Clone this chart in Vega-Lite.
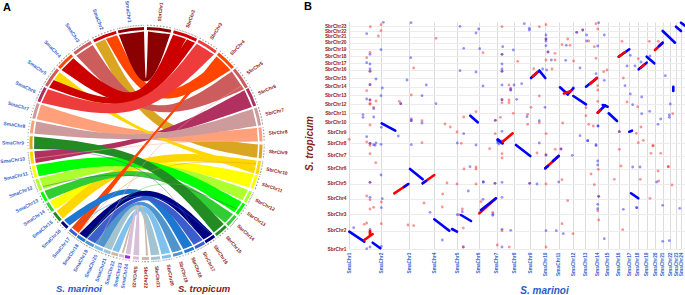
{"$schema":"https://vega.github.io/schema/vega-lite/v6.json","padding":0,"background":"white","bounds":"flush","spacing":48,"config":{"view":{"stroke":null},"font":"Liberation Sans"},
"datasets":{
"ring":[
{"chr":"SbrChr1","t0":0.5,"t1":12.5,"mid":6.5,"hom":"SbrChr1"},{"chr":"SbrChr2","t0":13.8,"t1":26,"mid":19.9,"hom":"SbrChr2"},{"chr":"SbrChr3","t0":27,"t1":37.4,"mid":32.2,"hom":"SbrChr3"},{"chr":"SbrChr4","t0":38.7,"t1":49,"mid":43.9,"hom":"SbrChr4"},{"chr":"SbrChr5","t0":50,"t1":61,"mid":55.5,"hom":"SbrChr5"},{"chr":"SbrChr6","t0":61.6,"t1":71,"mid":66.3,"hom":"SbrChr6"},{"chr":"SbrChr7","t0":72,"t1":81,"mid":76.5,"hom":"SbrChr7"},{"chr":"SbrChr8","t0":82,"t1":89,"mid":85.5,"hom":"SbrChr8"},{"chr":"SbrChr9","t0":90.5,"t1":97.4,"mid":94,"hom":"SbrChr9"},{"chr":"SbrChr10","t0":98.8,"t1":105.5,"mid":102.2,"hom":"SbrChr10"},{"chr":"SbrChr11","t0":106,"t1":113,"mid":109.5,"hom":"SbrChr11"},{"chr":"SbrChr12","t0":114.5,"t1":120.5,"mid":117.5,"hom":"SbrChr12"},{"chr":"SbrChr13","t0":121.5,"t1":127.8,"mid":124.7,"hom":"SbrChr13"},{"chr":"SbrChr14","t0":129,"t1":135,"mid":132,"hom":"SbrChr14"},{"chr":"SbrChr15","t0":136,"t1":142.6,"mid":139.3,"hom":"SbrChr15"},{"chr":"SbrChr16","t0":143.6,"t1":149,"mid":146.3,"hom":"SbrChr16"},{"chr":"SbrChr17","t0":149.5,"t1":154.8,"mid":152.2,"hom":"SbrChr17"},{"chr":"SbrChr18","t0":155.5,"t1":160.5,"mid":158,"hom":"SbrChr18"},{"chr":"SbrChr19","t0":161.5,"t1":166.4,"mid":164,"hom":"SbrChr19"},{"chr":"SbrChr20","t0":167.5,"t1":172,"mid":169.8,"hom":"SbrChr20"},{"chr":"SbrChr21","t0":173,"t1":177.5,"mid":175.3,"hom":"SbrChr21"},{"chr":"SbrChr22","t0":178.5,"t1":182,"mid":180.3,"hom":"SbrChr22"},{"chr":"SbrChr23","t0":183.5,"t1":186.5,"mid":185,"hom":"SbrChr23"},
{"chr":"SmaChr1","t0":346,"t1":359,"mid":352.5,"hom":"SbrChr1"},{"chr":"SmaChr2","t0":333,"t1":345,"mid":339,"hom":"SbrChr2"},{"chr":"SmaChr3","t0":321.5,"t1":331.5,"mid":326.5,"hom":"SbrChr5"},{"chr":"SmaChr4","t0":311,"t1":320,"mid":315.5,"hom":"SbrChr4"},{"chr":"SmaChr5","t0":300,"t1":310,"mid":305,"hom":"SbrChr5"},{"chr":"SmaChr6","t0":291.3,"t1":299,"mid":295.2,"hom":"SbrChr6"},{"chr":"SmaChr7","t0":282.5,"t1":290.4,"mid":286.5,"hom":"SbrChr7"},{"chr":"SmaChr8","t0":275,"t1":281.4,"mid":278.2,"hom":"SbrChr8"},{"chr":"SmaChr9","t0":267.2,"t1":273.6,"mid":270.4,"hom":"SbrChr9"},{"chr":"SmaChr10","t0":260,"t1":266,"mid":263,"hom":"SbrChr10"},{"chr":"SmaChr11","t0":253,"t1":259,"mid":256,"hom":"SbrChr11"},{"chr":"SmaChr12","t0":246,"t1":252,"mid":249,"hom":"SbrChr12"},{"chr":"SmaChr13","t0":240,"t1":245,"mid":242.5,"hom":"SbrChr13"},{"chr":"SmaChr14","t0":234,"t1":239,"mid":236.5,"hom":"SbrChr14"},{"chr":"SmaChr15","t0":228,"t1":233,"mid":230.5,"hom":"SbrChr15"},{"chr":"SmaChr16","t0":223,"t1":227,"mid":225,"hom":"SbrChr16"},{"chr":"SmaChr17","t0":217,"t1":221.5,"mid":219.3,"hom":"SbrChr17"},{"chr":"SmaChr18","t0":212,"t1":216.5,"mid":214.3,"hom":"SbrChr18"},{"chr":"SmaChr19","t0":207,"t1":211.6,"mid":209.3,"hom":"SbrChr19"},{"chr":"SmaChr20","t0":202,"t1":206.5,"mid":204.3,"hom":"SbrChr20"},{"chr":"SmaChr21","t0":198,"t1":201.5,"mid":199.8,"hom":"SbrChr21"},{"chr":"SmaChr22","t0":194,"t1":197.5,"mid":195.8,"hom":"SbrChr22"},{"chr":"SmaChr23","t0":191,"t1":193.5,"mid":192.3,"hom":"SbrChr23"},{"chr":"SmaChr24","t0":188,"t1":190.5,"mid":189.3,"hom":"Orchid"}],
"ribbons":[
{"link":"r06","hom":"SbrChr9","i":0,"x":-50.8,"y":99.8},{"link":"r06","hom":"SbrChr9","i":1,"x":3.4,"y":4.9},{"link":"r06","hom":"SbrChr9","i":2,"x":111.1,"y":-14.4},{"link":"r06","hom":"SbrChr9","i":3,"x":111.1,"y":-14.4},{"link":"r06","hom":"SbrChr9","i":4,"x":111.1,"y":-14.4},{"link":"r06","hom":"SbrChr9","i":5,"x":112,"y":-1},{"link":"r06","hom":"SbrChr9","i":6,"x":112,"y":-1},{"link":"r06","hom":"SbrChr9","i":7,"x":112,"y":-1},{"link":"r06","hom":"SbrChr9","i":8,"x":7.9,"y":11.5},{"link":"r06","hom":"SbrChr9","i":9,"x":-41,"y":104.2},
{"link":"r07","hom":"SbrChr5","i":0,"x":-69.7,"y":87.7},{"link":"r07","hom":"SbrChr5","i":1,"x":2.6,"y":13.2},{"link":"r07","hom":"SbrChr5","i":2,"x":98,"y":54.3},{"link":"r07","hom":"SbrChr5","i":3,"x":98,"y":54.3},{"link":"r07","hom":"SbrChr5","i":4,"x":98,"y":54.3},{"link":"r07","hom":"SbrChr5","i":5,"x":85.8,"y":72},{"link":"r07","hom":"SbrChr5","i":6,"x":85.8,"y":72},{"link":"r07","hom":"SbrChr5","i":7,"x":85.8,"y":72},{"link":"r07","hom":"SbrChr5","i":8,"x":3,"y":15.7},{"link":"r07","hom":"SbrChr5","i":9,"x":-53.4,"y":98.4},
{"link":"r05","hom":"SbrChr4","i":0,"x":-40.1,"y":104.6},{"link":"r05","hom":"SbrChr4","i":1,"x":6,"y":24.3},{"link":"r05","hom":"SbrChr4","i":2,"x":84.5,"y":73.5},{"link":"r05","hom":"SbrChr4","i":3,"x":84.5,"y":73.5},{"link":"r05","hom":"SbrChr4","i":4,"x":84.5,"y":73.5},{"link":"r05","hom":"SbrChr4","i":5,"x":74.2,"y":83.9},{"link":"r05","hom":"SbrChr4","i":6,"x":74.2,"y":83.9},{"link":"r05","hom":"SbrChr4","i":7,"x":74.2,"y":83.9},{"link":"r05","hom":"SbrChr4","i":8,"x":7.6,"y":32.1},{"link":"r05","hom":"SbrChr4","i":9,"x":-29,"y":108.2},
{"link":"r12","hom":"SbrChr6","i":0,"x":-110.3,"y":-19.4},{"link":"r12","hom":"SbrChr6","i":1,"x":0,"y":0},{"link":"r12","hom":"SbrChr6","i":2,"x":105.9,"y":36.5},{"link":"r12","hom":"SbrChr6","i":3,"x":105.9,"y":36.5},{"link":"r12","hom":"SbrChr6","i":4,"x":105.9,"y":36.5},{"link":"r12","hom":"SbrChr6","i":5,"x":98.5,"y":53.3},{"link":"r12","hom":"SbrChr6","i":6,"x":98.5,"y":53.3},{"link":"r12","hom":"SbrChr6","i":7,"x":98.5,"y":53.3},{"link":"r12","hom":"SbrChr6","i":8,"x":0,"y":0},{"link":"r12","hom":"SbrChr6","i":9,"x":-111.7,"y":-7.8},
{"link":"r10","hom":"SbrChr8","i":0,"x":-109.3,"y":24.2},{"link":"r10","hom":"SbrChr8","i":1,"x":0,"y":0},{"link":"r10","hom":"SbrChr8","i":2,"x":112,"y":2},{"link":"r10","hom":"SbrChr8","i":3,"x":112,"y":2},{"link":"r10","hom":"SbrChr8","i":4,"x":112,"y":2},{"link":"r10","hom":"SbrChr8","i":5,"x":110.9,"y":15.6},{"link":"r10","hom":"SbrChr8","i":6,"x":110.9,"y":15.6},{"link":"r10","hom":"SbrChr8","i":7,"x":110.9,"y":15.6},{"link":"r10","hom":"SbrChr8","i":8,"x":0,"y":5},{"link":"r10","hom":"SbrChr8","i":9,"x":-105,"y":39},
{"link":"r17","hom":"SbrChr11","i":0,"x":-90.6,"y":-65.8},{"link":"r17","hom":"SbrChr11","i":1,"x":-6,"y":-12},{"link":"r17","hom":"SbrChr11","i":2,"x":103.1,"y":-43.8},{"link":"r17","hom":"SbrChr11","i":3,"x":103.1,"y":-43.8},{"link":"r17","hom":"SbrChr11","i":4,"x":103.1,"y":-43.8},{"link":"r17","hom":"SbrChr11","i":5,"x":107.7,"y":-30.9},{"link":"r17","hom":"SbrChr11","i":6,"x":107.7,"y":-30.9},{"link":"r17","hom":"SbrChr11","i":7,"x":107.7,"y":-30.9},{"link":"r17","hom":"SbrChr11","i":8,"x":-4,"y":-8},{"link":"r17","hom":"SbrChr11","i":9,"x":-96,"y":-57.7},
{"link":"r09","hom":"SbrChr10","i":0,"x":-83.2,"y":-74.9},{"link":"r09","hom":"SbrChr10","i":1,"x":-9.6,"y":-10},{"link":"r09","hom":"SbrChr10","i":2,"x":109.5,"y":-23.3},{"link":"r09","hom":"SbrChr10","i":3,"x":109.5,"y":-23.3},{"link":"r09","hom":"SbrChr10","i":4,"x":109.5,"y":-23.3},{"link":"r09","hom":"SbrChr10","i":5,"x":110.7,"y":-17.1},{"link":"r09","hom":"SbrChr10","i":6,"x":110.7,"y":-17.1},{"link":"r09","hom":"SbrChr10","i":7,"x":110.7,"y":-17.1},{"link":"r09","hom":"SbrChr10","i":8,"x":-8,"y":-1.4},{"link":"r09","hom":"SbrChr10","i":9,"x":-89.4,"y":-67.4},
{"link":"r08","hom":"SbrChr10","i":0,"x":-91.7,"y":64.2},{"link":"r08","hom":"SbrChr10","i":1,"x":-5.5,"y":8},{"link":"r08","hom":"SbrChr10","i":2,"x":107.9,"y":-29.9},{"link":"r08","hom":"SbrChr10","i":3,"x":107.9,"y":-29.9},{"link":"r08","hom":"SbrChr10","i":4,"x":107.9,"y":-29.9},{"link":"r08","hom":"SbrChr10","i":5,"x":109.5,"y":-23.3},{"link":"r08","hom":"SbrChr10","i":6,"x":109.5,"y":-23.3},{"link":"r08","hom":"SbrChr10","i":7,"x":109.5,"y":-23.3},{"link":"r08","hom":"SbrChr10","i":8,"x":-7,"y":9},{"link":"r08","hom":"SbrChr10","i":9,"x":-86.4,"y":71.2},
{"link":"r11","hom":"SbrChr7","i":0,"x":-111.6,"y":9.8},{"link":"r11","hom":"SbrChr7","i":1,"x":0,"y":0},{"link":"r11","hom":"SbrChr7","i":2,"x":110.6,"y":17.5},{"link":"r11","hom":"SbrChr7","i":3,"x":110.6,"y":17.5},{"link":"r11","hom":"SbrChr7","i":4,"x":110.6,"y":17.5},{"link":"r11","hom":"SbrChr7","i":5,"x":106.5,"y":34.6},{"link":"r11","hom":"SbrChr7","i":6,"x":106.5,"y":34.6},{"link":"r11","hom":"SbrChr7","i":7,"x":106.5,"y":34.6},{"link":"r11","hom":"SbrChr7","i":8,"x":0,"y":0},{"link":"r11","hom":"SbrChr7","i":9,"x":-109.8,"y":22.1},
{"link":"r15","hom":"SbrChr12","i":0,"x":-102.3,"y":-45.6},{"link":"r15","hom":"SbrChr12","i":1,"x":0,"y":-12},{"link":"r15","hom":"SbrChr12","i":2,"x":96.5,"y":-56.8},{"link":"r15","hom":"SbrChr12","i":3,"x":96.5,"y":-56.8},{"link":"r15","hom":"SbrChr12","i":4,"x":96.5,"y":-56.8},{"link":"r15","hom":"SbrChr12","i":5,"x":101.9,"y":-46.4},{"link":"r15","hom":"SbrChr12","i":6,"x":101.9,"y":-46.4},{"link":"r15","hom":"SbrChr12","i":7,"x":101.9,"y":-46.4},{"link":"r15","hom":"SbrChr12","i":8,"x":0,"y":-10},{"link":"r15","hom":"SbrChr12","i":9,"x":-106.5,"y":-34.6},
{"link":"r16","hom":"SbrChr14","i":0,"x":-97,"y":-56},{"link":"r16","hom":"SbrChr14","i":1,"x":0,"y":-16},{"link":"r16","hom":"SbrChr14","i":2,"x":79.2,"y":-79.2},{"link":"r16","hom":"SbrChr14","i":3,"x":79.2,"y":-79.2},{"link":"r16","hom":"SbrChr14","i":4,"x":79.2,"y":-79.2},{"link":"r16","hom":"SbrChr14","i":5,"x":87,"y":-70.5},{"link":"r16","hom":"SbrChr14","i":6,"x":87,"y":-70.5},{"link":"r16","hom":"SbrChr14","i":7,"x":87,"y":-70.5},{"link":"r16","hom":"SbrChr14","i":8,"x":0,"y":-13},{"link":"r16","hom":"SbrChr14","i":9,"x":-101.5,"y":-47.3},
{"link":"r14","hom":"SbrChr13","i":0,"x":-107.1,"y":-32.7},{"link":"r14","hom":"SbrChr13","i":1,"x":0,"y":-12},{"link":"r14","hom":"SbrChr13","i":2,"x":88.5,"y":-68.6},{"link":"r14","hom":"SbrChr13","i":3,"x":88.5,"y":-68.6},{"link":"r14","hom":"SbrChr13","i":4,"x":88.5,"y":-68.6},{"link":"r14","hom":"SbrChr13","i":5,"x":95.5,"y":-58.5},{"link":"r14","hom":"SbrChr13","i":6,"x":95.5,"y":-58.5},{"link":"r14","hom":"SbrChr13","i":7,"x":95.5,"y":-58.5},{"link":"r14","hom":"SbrChr13","i":8,"x":0,"y":-5},{"link":"r14","hom":"SbrChr13","i":9,"x":-109.9,"y":-21.4},
{"link":"r13","hom":"SbrChr15","i":0,"x":-111.9,"y":-5.5},{"link":"r13","hom":"SbrChr15","i":1,"x":0,"y":-9},{"link":"r13","hom":"SbrChr15","i":2,"x":68,"y":-89},{"link":"r13","hom":"SbrChr15","i":3,"x":68,"y":-89},{"link":"r13","hom":"SbrChr15","i":4,"x":68,"y":-89},{"link":"r13","hom":"SbrChr15","i":5,"x":77.8,"y":-80.6},{"link":"r13","hom":"SbrChr15","i":6,"x":77.8,"y":-80.6},{"link":"r13","hom":"SbrChr15","i":7,"x":77.8,"y":-80.6},{"link":"r13","hom":"SbrChr15","i":8,"x":5.5,"y":-5.5},{"link":"r13","hom":"SbrChr15","i":9,"x":-111.8,"y":7},
{"link":"r19","hom":"SbrChr4","i":0,"x":-67.4,"y":-89.4},{"link":"r19","hom":"SbrChr4","i":1,"x":0,"y":0},{"link":"r19","hom":"SbrChr4","i":2,"x":74.2,"y":83.9},{"link":"r19","hom":"SbrChr4","i":3,"x":74.2,"y":83.9},{"link":"r19","hom":"SbrChr4","i":4,"x":74.2,"y":83.9},{"link":"r19","hom":"SbrChr4","i":5,"x":70.5,"y":87},{"link":"r19","hom":"SbrChr4","i":6,"x":70.5,"y":87},{"link":"r19","hom":"SbrChr4","i":7,"x":70.5,"y":87},{"link":"r19","hom":"SbrChr4","i":8,"x":0,"y":0},{"link":"r19","hom":"SbrChr4","i":9,"x":-74.2,"y":-83.9},
{"link":"r01","hom":"SbrChr1","i":0,"x":-27.1,"y":108.7},{"link":"r01","hom":"SbrChr1","i":1,"x":0,"y":38.5},{"link":"r01","hom":"SbrChr1","i":2,"x":24.2,"y":109.3},{"link":"r01","hom":"SbrChr1","i":3,"x":24.2,"y":109.3},{"link":"r01","hom":"SbrChr1","i":4,"x":24.2,"y":109.3},{"link":"r01","hom":"SbrChr1","i":5,"x":2,"y":112},{"link":"r01","hom":"SbrChr1","i":6,"x":2,"y":112},{"link":"r01","hom":"SbrChr1","i":7,"x":2,"y":112},{"link":"r01","hom":"SbrChr1","i":8,"x":0,"y":42},{"link":"r01","hom":"SbrChr1","i":9,"x":-2,"y":112},
{"link":"r02","hom":"SbrChr2","i":0,"x":-84.5,"y":73.5},{"link":"r02","hom":"SbrChr2","i":1,"x":-4.8,"y":19.4},{"link":"r02","hom":"SbrChr2","i":2,"x":40.1,"y":104.6},{"link":"r02","hom":"SbrChr2","i":3,"x":40.1,"y":104.6},{"link":"r02","hom":"SbrChr2","i":4,"x":40.1,"y":104.6},{"link":"r02","hom":"SbrChr2","i":5,"x":27.1,"y":108.7},{"link":"r02","hom":"SbrChr2","i":6,"x":27.1,"y":108.7},{"link":"r02","hom":"SbrChr2","i":7,"x":27.1,"y":108.7},{"link":"r02","hom":"SbrChr2","i":8,"x":-6.9,"y":29.2},{"link":"r02","hom":"SbrChr2","i":9,"x":-72.7,"y":85.2},
{"link":"r03","hom":"SbrChr2","i":0,"x":-97,"y":56},{"link":"r03","hom":"SbrChr2","i":1,"x":-7.3,"y":23.9},{"link":"r03","hom":"SbrChr2","i":2,"x":49.1,"y":100.7},{"link":"r03","hom":"SbrChr2","i":3,"x":49.1,"y":100.7},{"link":"r03","hom":"SbrChr2","i":4,"x":49.1,"y":100.7},{"link":"r03","hom":"SbrChr2","i":5,"x":41,"y":104.2},{"link":"r03","hom":"SbrChr2","i":6,"x":41,"y":104.2},{"link":"r03","hom":"SbrChr2","i":7,"x":41,"y":104.2},{"link":"r03","hom":"SbrChr2","i":8,"x":-9,"y":29.6},{"link":"r03","hom":"SbrChr2","i":9,"x":-92.3,"y":63.4},
{"link":"r04","hom":"SbrChr3","i":0,"x":-104.4,"y":40.7},{"link":"r04","hom":"SbrChr3","i":1,"x":-5.1,"y":18.3},{"link":"r04","hom":"SbrChr3","i":2,"x":68,"y":89},{"link":"r04","hom":"SbrChr3","i":3,"x":68,"y":89},{"link":"r04","hom":"SbrChr3","i":4,"x":68,"y":89},{"link":"r04","hom":"SbrChr3","i":5,"x":50.8,"y":99.8},{"link":"r04","hom":"SbrChr3","i":6,"x":50.8,"y":99.8},{"link":"r04","hom":"SbrChr3","i":7,"x":50.8,"y":99.8},{"link":"r04","hom":"SbrChr3","i":8,"x":-7.9,"y":25.8},{"link":"r04","hom":"SbrChr3","i":9,"x":-98,"y":54.3},
{"link":"r18","hom":"SbrChr18","i":0,"x":-81.9,"y":-76.4},{"link":"r18","hom":"SbrChr18","i":1,"x":-4.8,"y":-24.5},{"link":"r18","hom":"SbrChr18","i":2,"x":46.4,"y":-101.9},{"link":"r18","hom":"SbrChr18","i":3,"x":46.4,"y":-101.9},{"link":"r18","hom":"SbrChr18","i":4,"x":46.4,"y":-101.9},{"link":"r18","hom":"SbrChr18","i":5,"x":37.4,"y":-105.6},{"link":"r18","hom":"SbrChr18","i":6,"x":37.4,"y":-105.6},{"link":"r18","hom":"SbrChr18","i":7,"x":37.4,"y":-105.6},{"link":"r18","hom":"SbrChr18","i":8,"x":-6,"y":-29.4},{"link":"r18","hom":"SbrChr18","i":9,"x":-76.4,"y":-81.9},
{"link":"r20","hom":"SbrChr16","i":0,"x":-66.6,"y":-90},{"link":"r20","hom":"SbrChr16","i":1,"x":0,"y":-26},{"link":"r20","hom":"SbrChr16","i":2,"x":66.5,"y":-90.2},{"link":"r20","hom":"SbrChr16","i":3,"x":66.5,"y":-90.2},{"link":"r20","hom":"SbrChr16","i":4,"x":66.5,"y":-90.2},{"link":"r20","hom":"SbrChr16","i":5,"x":57.7,"y":-96},{"link":"r20","hom":"SbrChr16","i":6,"x":57.7,"y":-96},{"link":"r20","hom":"SbrChr16","i":7,"x":57.7,"y":-96},{"link":"r20","hom":"SbrChr16","i":8,"x":0,"y":-31},{"link":"r20","hom":"SbrChr16","i":9,"x":-59.3,"y":-95},
{"link":"r21","hom":"SbrChr17","i":0,"x":-58.7,"y":-95.4},{"link":"r21","hom":"SbrChr17","i":1,"x":0,"y":-32},{"link":"r21","hom":"SbrChr17","i":2,"x":56.8,"y":-96.5},{"link":"r21","hom":"SbrChr17","i":3,"x":56.8,"y":-96.5},{"link":"r21","hom":"SbrChr17","i":4,"x":56.8,"y":-96.5},{"link":"r21","hom":"SbrChr17","i":5,"x":47.7,"y":-101.3},{"link":"r21","hom":"SbrChr17","i":6,"x":47.7,"y":-101.3},{"link":"r21","hom":"SbrChr17","i":7,"x":47.7,"y":-101.3},{"link":"r21","hom":"SbrChr17","i":8,"x":0,"y":-35},{"link":"r21","hom":"SbrChr17","i":9,"x":-50.8,"y":-99.8},
{"link":"r22","hom":"SbrChr19","i":0,"x":-50.8,"y":-99.8},{"link":"r22","hom":"SbrChr19","i":1,"x":-2.5,"y":-36},{"link":"r22","hom":"SbrChr19","i":2,"x":35.5,"y":-106.2},{"link":"r22","hom":"SbrChr19","i":3,"x":35.5,"y":-106.2},{"link":"r22","hom":"SbrChr19","i":4,"x":35.5,"y":-106.2},{"link":"r22","hom":"SbrChr19","i":5,"x":26.3,"y":-108.9},{"link":"r22","hom":"SbrChr19","i":6,"x":26.3,"y":-108.9},{"link":"r22","hom":"SbrChr19","i":7,"x":26.3,"y":-108.9},{"link":"r22","hom":"SbrChr19","i":8,"x":-2.8,"y":-40},{"link":"r22","hom":"SbrChr19","i":9,"x":-42,"y":-103.8},
{"link":"r23","hom":"SbrChr21","i":0,"x":-42,"y":-103.8},{"link":"r23","hom":"SbrChr21","i":1,"x":-5,"y":-38.7},{"link":"r23","hom":"SbrChr21","i":2,"x":13.6,"y":-111.2},{"link":"r23","hom":"SbrChr21","i":3,"x":13.6,"y":-111.2},{"link":"r23","hom":"SbrChr21","i":4,"x":13.6,"y":-111.2},{"link":"r23","hom":"SbrChr21","i":5,"x":4.9,"y":-111.9},{"link":"r23","hom":"SbrChr21","i":6,"x":4.9,"y":-111.9},{"link":"r23","hom":"SbrChr21","i":7,"x":4.9,"y":-111.9},{"link":"r23","hom":"SbrChr21","i":8,"x":-6,"y":-43.6},{"link":"r23","hom":"SbrChr21","i":9,"x":-34.6,"y":-106.5},
{"link":"r24","hom":"SbrChr20","i":0,"x":-33.7,"y":-106.8},{"link":"r24","hom":"SbrChr20","i":1,"x":-1.7,"y":-40},{"link":"r24","hom":"SbrChr20","i":2,"x":24.2,"y":-109.3},{"link":"r24","hom":"SbrChr20","i":3,"x":24.2,"y":-109.3},{"link":"r24","hom":"SbrChr20","i":4,"x":24.2,"y":-109.3},{"link":"r24","hom":"SbrChr20","i":5,"x":15.6,"y":-110.9},{"link":"r24","hom":"SbrChr20","i":6,"x":15.6,"y":-110.9},{"link":"r24","hom":"SbrChr20","i":7,"x":15.6,"y":-110.9},{"link":"r24","hom":"SbrChr20","i":8,"x":-2.4,"y":-46},{"link":"r24","hom":"SbrChr20","i":9,"x":-27.1,"y":-108.7},
{"link":"r25","hom":"SbrChr22","i":0,"x":-24.2,"y":-109.3},{"link":"r25","hom":"SbrChr22","i":1,"x":-3,"y":-38},{"link":"r25","hom":"SbrChr22","i":2,"x":2,"y":-112},{"link":"r25","hom":"SbrChr22","i":3,"x":2,"y":-112},{"link":"r25","hom":"SbrChr22","i":4,"x":2,"y":-112},{"link":"r25","hom":"SbrChr22","i":5,"x":0,"y":-112},{"link":"r25","hom":"SbrChr22","i":6,"x":0,"y":-112},{"link":"r25","hom":"SbrChr22","i":7,"x":0,"y":-112},{"link":"r25","hom":"SbrChr22","i":8,"x":-3,"y":-40},{"link":"r25","hom":"SbrChr22","i":9,"x":-22.3,"y":-109.8},
{"link":"r26","hom":"SbrChr23","i":0,"x":-20.4,"y":-110.1},{"link":"r26","hom":"SbrChr23","i":1,"x":-6,"y":-37.5},{"link":"r26","hom":"SbrChr23","i":2,"x":-6.8,"y":-111.8},{"link":"r26","hom":"SbrChr23","i":3,"x":-6.8,"y":-111.8},{"link":"r26","hom":"SbrChr23","i":4,"x":-6.8,"y":-111.8},{"link":"r26","hom":"SbrChr23","i":5,"x":-12.7,"y":-111.3},{"link":"r26","hom":"SbrChr23","i":6,"x":-12.7,"y":-111.3},{"link":"r26","hom":"SbrChr23","i":7,"x":-12.7,"y":-111.3},{"link":"r26","hom":"SbrChr23","i":8,"x":-6,"y":-36},{"link":"r26","hom":"SbrChr23","i":9,"x":-15.6,"y":-110.9}],
"threads":[
{"link":"t1","hom":"SbrChr9","i":0,"x":110,"y":-20},{"link":"t1","hom":"SbrChr9","i":1,"x":-5,"y":-15},{"link":"t1","hom":"SbrChr9","i":2,"x":-66,"y":-88},
{"link":"t2","hom":"SbrChr7","i":0,"x":96,"y":58},{"link":"t2","hom":"SbrChr7","i":1,"x":0,"y":-2},{"link":"t2","hom":"SbrChr7","i":2,"x":-48,"y":-100},
{"link":"t3","hom":"SbrChr8","i":0,"x":112,"y":5},{"link":"t3","hom":"SbrChr8","i":1,"x":0,"y":0},{"link":"t3","hom":"SbrChr8","i":2,"x":-111,"y":-15},
{"link":"t4","hom":"SbrChr13","i":0,"x":95,"y":-58},{"link":"t4","hom":"SbrChr13","i":1,"x":0,"y":-25},{"link":"t4","hom":"SbrChr13","i":2,"x":-60,"y":-95},
{"link":"t5","hom":"SbrChr17","i":0,"x":-112,"y":-3},{"link":"t5","hom":"SbrChr17","i":1,"x":5,"y":-15},{"link":"t5","hom":"SbrChr17","i":2,"x":55,"y":-97},
{"link":"t6","hom":"SbrChr16","i":0,"x":-103,"y":-43},{"link":"t6","hom":"SbrChr16","i":1,"x":-10,"y":-22},{"link":"t6","hom":"SbrChr16","i":2,"x":90,"y":-65},
{"link":"t7","hom":"SbrChr18","i":0,"x":-75,"y":-85},{"link":"t7","hom":"SbrChr18","i":1,"x":0,"y":-35},{"link":"t7","hom":"SbrChr18","i":2,"x":65,"y":-90}],
"species":[{"name":"S. marinoi","x":-67,"y":-145,"side":"Sma"},{"name":"S. tropicum","x":58,"y":-145,"side":"Sbr"}],
"dots":[
{"sma":34.3,"sbr":226.7,"strand":"b"},{"sma":62,"sbr":226.3,"strand":"b"},{"sma":32,"sbr":224.3,"strand":"r"},{"sma":21.3,"sbr":222.3,"strand":"r"},{"sma":111,"sbr":222.7,"strand":"b"},{"sma":129.7,"sbr":220,"strand":"b"},{"sma":32,"sbr":218.3,"strand":"r"},{"sma":17.7,"sbr":215.3,"strand":"b"},{"sma":127,"sbr":216,"strand":"b"},{"sma":29.3,"sbr":213,"strand":"r"},{"sma":87,"sbr":210.7,"strand":"r"},{"sma":114.7,"sbr":200.7,"strand":"b"},{"sma":130.7,"sbr":200.3,"strand":"b"},{"sma":32,"sbr":199.3,"strand":"b"},{"sma":21,"sbr":196.7,"strand":"r"},{"sma":134,"sbr":196.3,"strand":"r"},{"sma":21,"sbr":194.7,"strand":"b"},{"sma":17.7,"sbr":191.3,"strand":"r"},{"sma":61.7,"sbr":191.3,"strand":"b"},{"sma":17.7,"sbr":186.3,"strand":"b"},{"sma":21,"sbr":185,"strand":"b"},{"sma":64.7,"sbr":181,"strand":"r"},{"sma":21,"sbr":180,"strand":"b"},{"sma":21,"sbr":177.7,"strand":"b"},{"sma":21,"sbr":177.7,"strand":"r"},{"sma":111,"sbr":178.3,"strand":"b"},{"sma":127,"sbr":177,"strand":"b"},{"sma":27,"sbr":170,"strand":"b"},{"sma":58,"sbr":169,"strand":"b"},{"sma":21,"sbr":164.3,"strand":"r"},{"sma":21,"sbr":164.3,"strand":"b"},{"sma":77.3,"sbr":164,"strand":"b"},{"sma":33.3,"sbr":161,"strand":"b"},{"sma":134,"sbr":163,"strand":"b"},{"sma":17.7,"sbr":158.3,"strand":"r"},{"sma":32,"sbr":153.3,"strand":"b"},{"sma":62.3,"sbr":154,"strand":"r"},{"sma":73,"sbr":153.3,"strand":"b"},{"sma":17.7,"sbr":150,"strand":"b"},{"sma":21,"sbr":149,"strand":"b"},{"sma":21,"sbr":149,"strand":"r"},{"sma":27,"sbr":148,"strand":"r"},{"sma":50.3,"sbr":147.7,"strand":"r"},{"sma":51.7,"sbr":145.3,"strand":"r"},{"sma":51.7,"sbr":145.3,"strand":"b"},{"sma":87,"sbr":145.3,"strand":"b"},{"sma":21,"sbr":145.7,"strand":"r"},{"sma":21,"sbr":144.7,"strand":"r"},{"sma":24.7,"sbr":141.7,"strand":"r"},{"sma":24.7,"sbr":140.3,"strand":"b"},{"sma":14,"sbr":134.3,"strand":"b"},{"sma":14,"sbr":131.7,"strand":"b"},{"sma":24.7,"sbr":132,"strand":"b"},{"sma":62.3,"sbr":130,"strand":"b"},{"sma":62.3,"sbr":128.3,"strand":"r"},{"sma":62.3,"sbr":128.3,"strand":"b"},{"sma":73,"sbr":128.3,"strand":"r"},{"sma":73,"sbr":126,"strand":"b"},{"sma":21,"sbr":124,"strand":"r"},{"sma":96,"sbr":125,"strand":"r"},{"sma":101.3,"sbr":122,"strand":"r"},{"sma":114.7,"sbr":132,"strand":"r"},{"sma":127,"sbr":137.3,"strand":"r"},{"sma":146.3,"sbr":128.7,"strand":"r"},{"sma":146.3,"sbr":128.7,"strand":"b"},{"sma":151.3,"sbr":131.7,"strand":"r"},{"sma":32.3,"sbr":121.7,"strand":"b"},{"sma":49.3,"sbr":113,"strand":"b"},{"sma":0.3,"sbr":109.7,"strand":"r"},{"sma":17.7,"sbr":112.3,"strand":"b"},{"sma":108,"sbr":117,"strand":"r"},{"sma":114.7,"sbr":115.3,"strand":"b"},{"sma":146.3,"sbr":115.3,"strand":"r"},{"sma":17.7,"sbr":107,"strand":"r"},{"sma":21,"sbr":105.7,"strand":"r"},{"sma":21,"sbr":105.7,"strand":"b"},{"sma":21,"sbr":103.7,"strand":"r"},{"sma":24.7,"sbr":104.3,"strand":"b"},{"sma":27,"sbr":106,"strand":"b"},{"sma":32,"sbr":104.7,"strand":"b"},{"sma":62.3,"sbr":104.3,"strand":"b"},{"sma":73,"sbr":106.3,"strand":"r"},{"sma":108.3,"sbr":106,"strand":"b"},{"sma":112.3,"sbr":105.7,"strand":"r"},{"sma":127,"sbr":104,"strand":"b"},{"sma":148.7,"sbr":106.3,"strand":"b"},{"sma":140.7,"sbr":100.3,"strand":"r"},
{"sma":153,"sbr":222.3,"strand":"r"},{"sma":175.3,"sbr":225.3,"strand":"b"},{"sma":180.3,"sbr":220.7,"strand":"b"},{"sma":180.3,"sbr":219,"strand":"b"},{"sma":190.3,"sbr":222.3,"strand":"r"},{"sma":197,"sbr":224.3,"strand":"r"},{"sma":247,"sbr":225.3,"strand":"r"},{"sma":249.7,"sbr":226.3,"strand":"b"},{"sma":248.7,"sbr":220,"strand":"r"},{"sma":227.7,"sbr":216.7,"strand":"r"},{"sma":227.7,"sbr":216.7,"strand":"b"},{"sma":233.7,"sbr":219,"strand":"r"},{"sma":233.7,"sbr":219,"strand":"b"},{"sma":218.7,"sbr":210,"strand":"r"},{"sma":237.7,"sbr":214,"strand":"b"},{"sma":255.3,"sbr":214,"strand":"b"},{"sma":197,"sbr":214,"strand":"b"},{"sma":197,"sbr":210,"strand":"r"},{"sma":197,"sbr":210,"strand":"b"},{"sma":197,"sbr":208,"strand":"b"},{"sma":237.7,"sbr":208,"strand":"b"},{"sma":239.7,"sbr":208,"strand":"r"},{"sma":213,"sbr":204.3,"strand":"r"},{"sma":217.3,"sbr":203.7,"strand":"b"},{"sma":221,"sbr":203.7,"strand":"r"},{"sma":197,"sbr":203.3,"strand":"b"},{"sma":245.3,"sbr":202.3,"strand":"r"},{"sma":248.7,"sbr":203,"strand":"b"},{"sma":153.7,"sbr":202.3,"strand":"b"},{"sma":164.3,"sbr":199,"strand":"b"},{"sma":273,"sbr":207.7,"strand":"r"},{"sma":300.3,"sbr":207.7,"strand":"r"},{"sma":309.3,"sbr":207.7,"strand":"r"},{"sma":199,"sbr":197,"strand":"r"},{"sma":199,"sbr":197,"strand":"b"},{"sma":206,"sbr":195.7,"strand":"r"},{"sma":153,"sbr":194.7,"strand":"r"},{"sma":153,"sbr":194.7,"strand":"b"},{"sma":247,"sbr":190.7,"strand":"r"},{"sma":197,"sbr":189,"strand":"r"},{"sma":202.3,"sbr":189,"strand":"b"},{"sma":206,"sbr":189,"strand":"r"},{"sma":216.7,"sbr":188.7,"strand":"b"},{"sma":224.7,"sbr":188,"strand":"r"},{"sma":168.7,"sbr":187.7,"strand":"r"},{"sma":281.3,"sbr":193.7,"strand":"b"},{"sma":289.3,"sbr":190.3,"strand":"r"},{"sma":153,"sbr":185,"strand":"b"},{"sma":153,"sbr":180,"strand":"b"},{"sma":153,"sbr":177.7,"strand":"r"},{"sma":153,"sbr":177.7,"strand":"b"},{"sma":231,"sbr":181,"strand":"b"},{"sma":184.7,"sbr":180.3,"strand":"r"},{"sma":203,"sbr":180,"strand":"r"},{"sma":193.7,"sbr":180,"strand":"b"},{"sma":197.7,"sbr":179,"strand":"b"},{"sma":278,"sbr":183,"strand":"b"},{"sma":258,"sbr":179,"strand":"r"},{"sma":254.7,"sbr":177.3,"strand":"r"},{"sma":247,"sbr":175.3,"strand":"b"},{"sma":274.3,"sbr":171,"strand":"r"},{"sma":316.3,"sbr":173.3,"strand":"b"},{"sma":255.3,"sbr":168.7,"strand":"b"},{"sma":153,"sbr":164,"strand":"b"},{"sma":160,"sbr":164,"strand":"r"},{"sma":165,"sbr":164,"strand":"b"},{"sma":172.7,"sbr":165.3,"strand":"b"},{"sma":161.7,"sbr":160.7,"strand":"b"},{"sma":161.7,"sbr":159,"strand":"r"},{"sma":161.7,"sbr":159,"strand":"b"},{"sma":276,"sbr":163.3,"strand":"b"},{"sma":248.7,"sbr":163.3,"strand":"r"},{"sma":248.7,"sbr":159,"strand":"r"},{"sma":224.3,"sbr":161.3,"strand":"b"},{"sma":190.3,"sbr":153,"strand":"r"},{"sma":281.3,"sbr":155,"strand":"b"},{"sma":292.7,"sbr":152,"strand":"b"},{"sma":153,"sbr":149.3,"strand":"r"},{"sma":153,"sbr":149.3,"strand":"b"},{"sma":153,"sbr":146.3,"strand":"r"},{"sma":160,"sbr":149,"strand":"r"},{"sma":160,"sbr":146.3,"strand":"r"},{"sma":167.7,"sbr":149.7,"strand":"b"},{"sma":248.7,"sbr":147.7,"strand":"r"},{"sma":278,"sbr":147,"strand":"r"},{"sma":283.7,"sbr":144.3,"strand":"b"},{"sma":288.7,"sbr":142.3,"strand":"r"},{"sma":321.3,"sbr":145,"strand":"b"},{"sma":182,"sbr":141.7,"strand":"r"},{"sma":196,"sbr":141.7,"strand":"b"},{"sma":237,"sbr":141.3,"strand":"r"},{"sma":300.7,"sbr":137.7,"strand":"b"},{"sma":164.3,"sbr":135.7,"strand":"r"},{"sma":178.7,"sbr":134.7,"strand":"r"},{"sma":178,"sbr":132.3,"strand":"b"},{"sma":292.7,"sbr":135.3,"strand":"b"},{"sma":323.7,"sbr":135.3,"strand":"r"},{"sma":320.3,"sbr":134,"strand":"b"},{"sma":320.3,"sbr":131.7,"strand":"b"},{"sma":237,"sbr":133.3,"strand":"r"},{"sma":190.3,"sbr":128.3,"strand":"b"},{"sma":190.3,"sbr":126.3,"strand":"r"},{"sma":178.7,"sbr":124.7,"strand":"r"},{"sma":213.7,"sbr":126,"strand":"r"},{"sma":239.7,"sbr":124.7,"strand":"r"},{"sma":244.3,"sbr":123,"strand":"r"},{"sma":249,"sbr":123,"strand":"b"},{"sma":249,"sbr":123,"strand":"b"},{"sma":311.7,"sbr":130,"strand":"b"},{"sma":309,"sbr":124.7,"strand":"b"},{"sma":292,"sbr":122,"strand":"r"},{"sma":153,"sbr":117.7,"strand":"b"},{"sma":197,"sbr":115.3,"strand":"r"},{"sma":231,"sbr":113.3,"strand":"b"},{"sma":270.3,"sbr":117.3,"strand":"r"},{"sma":270.3,"sbr":117.3,"strand":"b"},{"sma":287.3,"sbr":115.7,"strand":"r"},{"sma":294.3,"sbr":108.7,"strand":"r"},{"sma":289.3,"sbr":106.3,"strand":"r"},{"sma":238.7,"sbr":108.3,"strand":"b"},{"sma":238.7,"sbr":108.3,"strand":"b"},{"sma":190.3,"sbr":106,"strand":"b"},{"sma":247,"sbr":104.3,"strand":"b"},{"sma":304.3,"sbr":103.3,"strand":"r"},{"sma":206.3,"sbr":99.7,"strand":"r"},{"sma":212,"sbr":100,"strand":"r"},{"sma":212,"sbr":100,"strand":"b"},{"sma":270.3,"sbr":99.7,"strand":"r"},{"sma":148.7,"sbr":108,"strand":"b"},{"sma":153,"sbr":108,"strand":"b"},{"sma":150,"sbr":105,"strand":"b"},
{"sma":21,"sbr":95.3,"strand":"r"},{"sma":26,"sbr":103.7,"strand":"b"},{"sma":26.7,"sbr":86.3,"strand":"r"},{"sma":32,"sbr":74,"strand":"b"},{"sma":21,"sbr":66.7,"strand":"r"},{"sma":21,"sbr":66.7,"strand":"b"},{"sma":17.7,"sbr":53,"strand":"r"},{"sma":21,"sbr":51.7,"strand":"b"},{"sma":21,"sbr":49.3,"strand":"r"},{"sma":33.3,"sbr":50.3,"strand":"b"},{"sma":32.3,"sbr":47,"strand":"r"},{"sma":24.7,"sbr":41.7,"strand":"r"},{"sma":21,"sbr":40,"strand":"r"},{"sma":32.3,"sbr":41.3,"strand":"b"},{"sma":4.7,"sbr":21.3,"strand":"b"},{"sma":15.3,"sbr":24.7,"strand":"r"},{"sma":17.7,"sbr":26,"strand":"r"},{"sma":32.3,"sbr":25.3,"strand":"r"},{"sma":21,"sbr":19.7,"strand":"b"},{"sma":21,"sbr":16.7,"strand":"r"},{"sma":59,"sbr":24,"strand":"r"},{"sma":64.7,"sbr":23.3,"strand":"r"},{"sma":17.7,"sbr":0.3,"strand":"b"},{"sma":21,"sbr":2,"strand":"b"},{"sma":32.3,"sbr":2.7,"strand":"b"},{"sma":98,"sbr":66,"strand":"r"},{"sma":108,"sbr":65,"strand":"r"},{"sma":127,"sbr":65,"strand":"r"},{"sma":134.3,"sbr":67,"strand":"b"},{"sma":134.3,"sbr":67,"strand":"b"},{"sma":146,"sbr":65.7,"strand":"r"},{"sma":146,"sbr":65.7,"strand":"b"},{"sma":115,"sbr":80,"strand":"r"},{"sma":121,"sbr":82.3,"strand":"b"},{"sma":127,"sbr":82,"strand":"r"},{"sma":127,"sbr":80,"strand":"r"},{"sma":93.7,"sbr":55,"strand":"r"},{"sma":119.3,"sbr":58,"strand":"b"},{"sma":75,"sbr":46,"strand":"r"},{"sma":93.3,"sbr":42,"strand":"r"},{"sma":81,"sbr":36.7,"strand":"b"},{"sma":134,"sbr":49.7,"strand":"b"},{"sma":132,"sbr":47.3,"strand":"r"},{"sma":113.3,"sbr":40,"strand":"r"},{"sma":113.3,"sbr":37.3,"strand":"b"},{"sma":108.3,"sbr":34.3,"strand":"b"},{"sma":110,"sbr":34.3,"strand":"r"},{"sma":143.7,"sbr":36.7,"strand":"r"},{"sma":144,"sbr":35,"strand":"b"},{"sma":114.3,"sbr":21,"strand":"r"},{"sma":98.7,"sbr":19.7,"strand":"r"},{"sma":93.3,"sbr":9,"strand":"b"},{"sma":114.3,"sbr":2,"strand":"b"},{"sma":114.3,"sbr":2,"strand":"r"},{"sma":148.3,"sbr":4,"strand":"r"},
{"sma":153,"sbr":66.7,"strand":"b"},{"sma":153,"sbr":95.3,"strand":"r"},{"sma":153,"sbr":91,"strand":"r"},{"sma":153,"sbr":51.7,"strand":"b"},{"sma":143.7,"sbr":33.7,"strand":"b"},{"sma":153,"sbr":19.7,"strand":"b"},{"sma":153,"sbr":18.3,"strand":"r"},{"sma":161.7,"sbr":18.7,"strand":"b"},{"sma":160.3,"sbr":2,"strand":"r"},{"sma":153,"sbr":2,"strand":"b"},{"sma":188,"sbr":96,"strand":"r"},{"sma":197,"sbr":94,"strand":"r"},{"sma":197,"sbr":94,"strand":"b"},{"sma":223.3,"sbr":93.7,"strand":"b"},{"sma":247,"sbr":103.3,"strand":"b"},{"sma":303.7,"sbr":103.3,"strand":"r"},{"sma":248.7,"sbr":88,"strand":"b"},{"sma":248.7,"sbr":84,"strand":"b"},{"sma":249.3,"sbr":79.7,"strand":"r"},{"sma":272,"sbr":83,"strand":"r"},{"sma":283.7,"sbr":82,"strand":"b"},{"sma":291,"sbr":82,"strand":"b"},{"sma":302,"sbr":95.7,"strand":"r"},{"sma":311.7,"sbr":95.7,"strand":"r"},{"sma":319.3,"sbr":82.3,"strand":"r"},{"sma":319.3,"sbr":82.3,"strand":"r"},{"sma":309,"sbr":78,"strand":"r"},{"sma":242,"sbr":75,"strand":"r"},{"sma":265.3,"sbr":69.7,"strand":"r"},{"sma":291.3,"sbr":69.7,"strand":"r"},{"sma":213,"sbr":69.3,"strand":"r"},{"sma":209.7,"sbr":67,"strand":"b"},{"sma":197,"sbr":65,"strand":"r"},{"sma":180.7,"sbr":65.7,"strand":"r"},{"sma":180.7,"sbr":65.7,"strand":"b"},{"sma":188,"sbr":65,"strand":"b"},{"sma":245.3,"sbr":64.3,"strand":"r"},{"sma":309.7,"sbr":68,"strand":"r"},{"sma":307.7,"sbr":67,"strand":"b"},{"sma":323,"sbr":64,"strand":"r"},{"sma":249.7,"sbr":52.7,"strand":"r"},{"sma":249.7,"sbr":52.7,"strand":"b"},{"sma":218.7,"sbr":48.3,"strand":"r"},{"sma":301,"sbr":50.7,"strand":"r"},{"sma":313.7,"sbr":43.7,"strand":"b"},{"sma":248.7,"sbr":44.7,"strand":"b"},{"sma":248.7,"sbr":40.3,"strand":"b"},{"sma":248.7,"sbr":38.3,"strand":"r"},{"sma":274.3,"sbr":39.7,"strand":"b"},{"sma":287.7,"sbr":41.3,"strand":"b"},{"sma":287.7,"sbr":41.3,"strand":"b"},{"sma":330.7,"sbr":40.7,"strand":"b"},{"sma":213,"sbr":25.3,"strand":"r"},{"sma":249.7,"sbr":29,"strand":"r"},{"sma":197,"sbr":18.3,"strand":"b"},{"sma":207.3,"sbr":18.3,"strand":"b"},{"sma":214.3,"sbr":15.3,"strand":"b"},{"sma":224,"sbr":15.3,"strand":"r"},{"sma":273.7,"sbr":19.3,"strand":"r"},{"sma":255.3,"sbr":10.3,"strand":"b"},{"sma":313.7,"sbr":7.7,"strand":"b"},{"sma":320.3,"sbr":8.3,"strand":"b"},{"sma":197,"sbr":2,"strand":"r"},{"sma":292,"sbr":187,"strand":"b"},{"sma":301,"sbr":193,"strand":"b"},{"sma":286,"sbr":183,"strand":"b"}],
"runs":[
{"x0":32.7,"y0":125.7,"x1":46.3,"y1":118.3,"strand":"b"},{"x0":121.3,"y0":133.3,"x1":128.7,"y1":126.7,"strand":"b"},{"x0":148.7,"y0":109.7,"x1":153,"y1":106,"strand":"b"},
{"x0":182,"y0":171,"x1":190.3,"y1":178.3,"strand":"b"},{"x0":184,"y0":173,"x1":188,"y1":176.5,"strand":"r"},{"x0":190.3,"y0":178.3,"x1":196.3,"y1":171,"strand":"b"},
{"x0":211,"y0":161.7,"x1":218.7,"y1":154.7,"strand":"b"},{"x0":218.7,"y0":154.7,"x1":224.3,"y1":160.7,"strand":"b"},{"x0":215,"y0":155.5,"x1":222,"y1":158,"strand":"r"},
{"x0":224.3,"y0":153,"x1":237,"y1":144.7,"strand":"b"},{"x0":237,"y0":162.3,"x1":248,"y1":171,"strand":"b"},{"x0":241,"y0":165,"x1":248,"y1":171,"strand":"r"},
{"x0":248.7,"y0":136.3,"x1":256.3,"y1":143.7,"strand":"b"},{"x0":253.7,"y0":144,"x1":258.7,"y1":142.3,"strand":"b"},{"x0":248.7,"y0":136.3,"x1":251,"y1":138.5,"strand":"r"},{"x0":259.7,"y0":135.7,"x1":268,"y1":128,"strand":"b"},
{"x0":280.3,"y0":117.3,"x1":283,"y1":118.3,"strand":"b"},{"x0":269.7,"y0":192.3,"x1":280.3,"y1":199.7,"strand":"b"},{"x0":270,"y0":192.5,"x1":276,"y1":197,"strand":"r"},{"x0":306,"y0":199,"x1":313.7,"y1":206.3,"strand":"r"},{"x0":310,"y0":203,"x1":313.7,"y1":206.3,"strand":"b"},
{"x0":313.7,"y0":218,"x1":326,"y1":206.3,"strand":"b"},{"x0":327,"y0":222.3,"x1":332,"y1":218,"strand":"b"},{"x0":332,"y0":226.3,"x1":336,"y1":223.3,"strand":"b"},{"x0":324.3,"y0":162.3,"x1":324.3,"y1":158,"strand":"b"},
{"x0":289.7,"y0":179.7,"x1":297.7,"y1":186.3,"strand":"b"},{"x0":292,"y0":181.5,"x1":295,"y1":184,"strand":"r"},{"x0":297.7,"y0":192.3,"x1":305.3,"y1":185.7,"strand":"b"},
{"x0":148.7,"y0":109,"x1":153.7,"y1":105.7,"strand":"b"},{"x0":153.7,"y0":107.3,"x1":163.7,"y1":115.7,"strand":"r"},{"x0":167,"y0":104,"x1":181.3,"y1":93,"strand":"b"},
{"x0":0.3,"y0":17.3,"x1":15.3,"y1":7.3,"strand":"b"},{"x0":15.3,"y0":9,"x1":23.7,"y1":15,"strand":"r"},{"x0":21,"y0":18,"x1":21,"y1":14,"strand":"r"},{"x0":23.7,"y0":6.3,"x1":31.3,"y1":0.7,"strand":"b"},
{"x0":45.3,"y0":55.7,"x1":59.3,"y1":65,"strand":"r"},{"x0":55,"y0":62,"x1":59.3,"y1":65,"strand":"b"},{"x0":61,"y0":80,"x1":73.7,"y1":69.7,"strand":"b"},{"x0":73.7,"y0":65.7,"x1":85.3,"y1":74,"strand":"r"},{"x0":73.7,"y0":65.7,"x1":77,"y1":68,"strand":"b"},
{"x0":85.3,"y0":29.7,"x1":100.3,"y1":18.3,"strand":"b"},{"x0":103,"y0":20,"x1":108,"y1":17.3,"strand":"b"},{"x0":112,"y0":34,"x1":122,"y1":28,"strand":"b"},{"x0":130.3,"y0":35.7,"x1":147,"y1":50.7,"strand":"r"},{"x0":132,"y0":39,"x1":147,"y1":50.7,"strand":"b"},
{"x0":196.3,"y0":80.7,"x1":209.7,"y1":93,"strand":"r"},{"x0":196.3,"y0":80.7,"x1":199,"y1":83,"strand":"b"},{"x0":204,"y0":88,"x1":209.7,"y1":93,"strand":"b"},{"x0":282,"y0":55.7,"x1":289.3,"y1":50.7,"strand":"b"}]
},
"hconcat":[
{"width":300,"height":295,"layer":[
{"data":{"name":"ribbons"},"mark":{"type":"line","interpolate":"basis","strokeWidth":0,"fillOpacity":1},"encoding":{"x":{"field":"x","type":"quantitative","scale":{"domain":[-145,155],"nice":false,"zero":false},"axis":null},"y":{"field":"y","type":"quantitative","scale":{"domain":[-151.5,143.5],"nice":false,"zero":false},"axis":null},"order":{"field":"i"},"detail":{"field":"link"},"fill":{"field":"hom","type":"nominal","legend":null,"scale":{"domain":["SbrChr1","SbrChr2","SbrChr3","SbrChr4","SbrChr5","SbrChr6","SbrChr7","SbrChr8","SbrChr9","SbrChr10","SbrChr11","SbrChr12","SbrChr13","SbrChr14","SbrChr15","SbrChr16","SbrChr17","SbrChr18","SbrChr19","SbrChr20","SbrChr21","SbrChr22","SbrChr23","Orchid"],"range":["#8b0000","#cd0000","#ee3b3b","#ff4500","#cd5c5c","#b03060","#cd9b9b","#ffa07a","#daa520","#ffd700","#ffff00","#adff2f","#00ff00","#32cd32","#228b22","#000080","#3a5fcd","#1c78d0","#4f94cd","#7ec0ee","#a2c4d0","#cdb8a8","#d8bfd8","#9932cc"]}}}},
{"data":{"name":"threads"},"mark":{"type":"line","interpolate":"basis","strokeWidth":0.6,"opacity":0.8},"encoding":{"x":{"field":"x","type":"quantitative"},"y":{"field":"y","type":"quantitative"},"order":{"field":"i"},"detail":{"field":"link"},"stroke":{"field":"hom","type":"nominal","legend":null,"scale":{"domain":["SbrChr7","SbrChr8","SbrChr9","SbrChr13","SbrChr16","SbrChr17","SbrChr18"],"range":["#e8a0a0","#ffb090","#daa520","#30e030","#555566","#4a50c0","#1c78d0"]}}}},
{"data":{"name":"ring"},"mark":{"type":"arc","radius":116.5,"radius2":113.5},"encoding":{"x":{"datum":0,"type":"quantitative"},"y":{"datum":0,"type":"quantitative"},"theta":{"field":"t0","type":"quantitative","scale":{"domain":[0,360],"range":[0,6.2832]}},"theta2":{"field":"t1"},"fill":{"field":"hom","type":"nominal"}}},
{"data":{"name":"ring"},"mark":{"type":"arc","radius":118.2,"radius2":118.2,"stroke":"#999999","strokeWidth":1.2,"strokeDash":[0.8,2.4],"fill":null},"encoding":{"x":{"datum":0,"type":"quantitative"},"y":{"datum":0,"type":"quantitative"},"theta":{"field":"t0","type":"quantitative","scale":{"domain":[0,360],"range":[0,6.2832]}},"theta2":{"field":"t1"}}},
{"data":{"name":"ring"},"transform":[{"filter":"datum.mid<187"}],"mark":{"type":"text","radius":123,"align":"left","baseline":"middle","fontSize":4.8,"fontWeight":"bold","color":"#8f2020"},"encoding":{"x":{"datum":0,"type":"quantitative"},"y":{"datum":0,"type":"quantitative"},"theta":{"field":"mid","type":"quantitative","scale":{"domain":[0,360],"range":[0,6.2832]}},"text":{"field":"chr"},"angle":{"field":"mid","type":"quantitative","scale":{"domain":[0,360],"range":[-90,270]}}}},
{"data":{"name":"ring"},"transform":[{"filter":"datum.mid>187"}],"mark":{"type":"text","radius":122,"align":"right","baseline":"middle","fontSize":5,"fontWeight":"bold","color":"#3a66cc"},"encoding":{"x":{"datum":0,"type":"quantitative"},"y":{"datum":0,"type":"quantitative"},"theta":{"field":"mid","type":"quantitative","scale":{"domain":[0,360],"range":[0,6.2832]}},"text":{"field":"chr"},"angle":{"field":"mid","type":"quantitative","scale":{"domain":[0,360],"range":[-270,90]}}}},
{"data":{"name":"species"},"mark":{"type":"text","fontSize":9.5,"fontWeight":"bold","fontStyle":"italic","baseline":"middle"},"encoding":{"x":{"field":"x","type":"quantitative"},"y":{"field":"y","type":"quantitative"},"text":{"field":"name"},"color":{"field":"side","type":"nominal","legend":null,"scale":{"domain":["Sma","Sbr"],"range":["#2a5bc8","#8b1a1a"]}}}},
{"data":{"values":[{"t":"A","x":-139,"y":136}]},"mark":{"type":"text","fontSize":11,"fontWeight":"bold","color":"#000000"},"encoding":{"x":{"field":"x","type":"quantitative"},"y":{"field":"y","type":"quantitative"},"text":{"field":"t"}}}
],"resolve":{"scale":{"color":"independent","stroke":"independent","angle":"independent"}}},
{"bounds":"flush","spacing":0,"vconcat":[
{"width":336,"height":22,"data":{"values":[{"t":"B","x":-41,"y":15}]},"mark":{"type":"text","fontSize":11,"fontWeight":"bold","color":"#000000"},"encoding":{"x":{"field":"x","type":"quantitative","scale":{"domain":[0,336]},"axis":null},"y":{"field":"y","type":"quantitative","scale":{"domain":[0,22]},"axis":null},"text":{"field":"t"}}},
{"width":336,"height":227,"layer":[
{"data":{"name":"dots"},"mark":{"type":"point","filled":true,"size":8,"opacity":0.42},"encoding":{
"x":{"field":"sma","type":"quantitative","scale":{"domain":[0,336],"nice":false,"zero":false},"axis":{"values":[0,32,60.3,85.3,108,129.7,147.5,165.3,181.3,196.3,209.7,224,236.3,248.7,258.7,269.7,280.3,288.7,297.7,306,313.7,321.3,327,332],"tickCount":60,"labelExpr":"'SmaChr'+(indexof([0,32,60.3,85.3,108,129.7,147.5,165.3,181.3,196.3,209.7,224,236.3,248.7,258.7,269.7,280.3,288.7,297.7,306,313.7,321.3,327,332],datum.value)+1)","labelAngle":270,"labelAlign":"right","labelBaseline":"middle","labelFontSize":4.8,"labelFontWeight":"bold","labelColor":"#3a66cc","labelPadding":3,"labelOverlap":false,"labelFlush":false,"domain":false,"ticks":false,"grid":true,"gridColor":"#dcdcdc","gridWidth":1,"title":"S. marinoi","titleFontSize":10,"titleFontWeight":"bold","titleFontStyle":"italic","titleColor":"#2a5bc8","titleX":195,"titleY":36,"titleAnchor":"middle"}},
"y":{"field":"sbr","type":"quantitative","scale":{"domain":[0,227],"nice":false,"zero":false},"axis":{"values":[0,18.3,35,50.3,65.3,80.3,93.3,106,116.3,126.3,135.7,144.7,153.7,162.3,171,179.3,186,193,200,206.3,212.3,218,223],"tickCount":60,"labelExpr":"'SbrChr'+(indexof([0,18.3,35,50.3,65.3,80.3,93.3,106,116.3,126.3,135.7,144.7,153.7,162.3,171,179.3,186,193,200,206.3,212.3,218,223],datum.value)+1)","labelFontSize":4.8,"labelFontWeight":"bold","labelColor":"#8f2020","labelPadding":3,"labelOverlap":false,"labelFlush":false,"domain":false,"ticks":false,"grid":true,"gridColor":"#ececec","gridWidth":1,"title":"S. tropicum","titleFontSize":10,"titleFontWeight":"bold","titleFontStyle":"italic","titleColor":"#8b1a1a","titleX":-35,"titleY":121,"titleAngle":270}},
"color":{"field":"strand","type":"nominal","legend":null,"scale":{"domain":["r","b"],"range":["#ff0000","#0000ff"]}}}},
{"data":{"name":"runs"},"mark":{"type":"rule","strokeWidth":2.6,"strokeCap":"round"},"encoding":{"x":{"field":"x0","type":"quantitative"},"y":{"field":"y0","type":"quantitative"},"x2":{"field":"x1"},"y2":{"field":"y1"},"color":{"field":"strand","type":"nominal"}}}
]}
]}
]}
